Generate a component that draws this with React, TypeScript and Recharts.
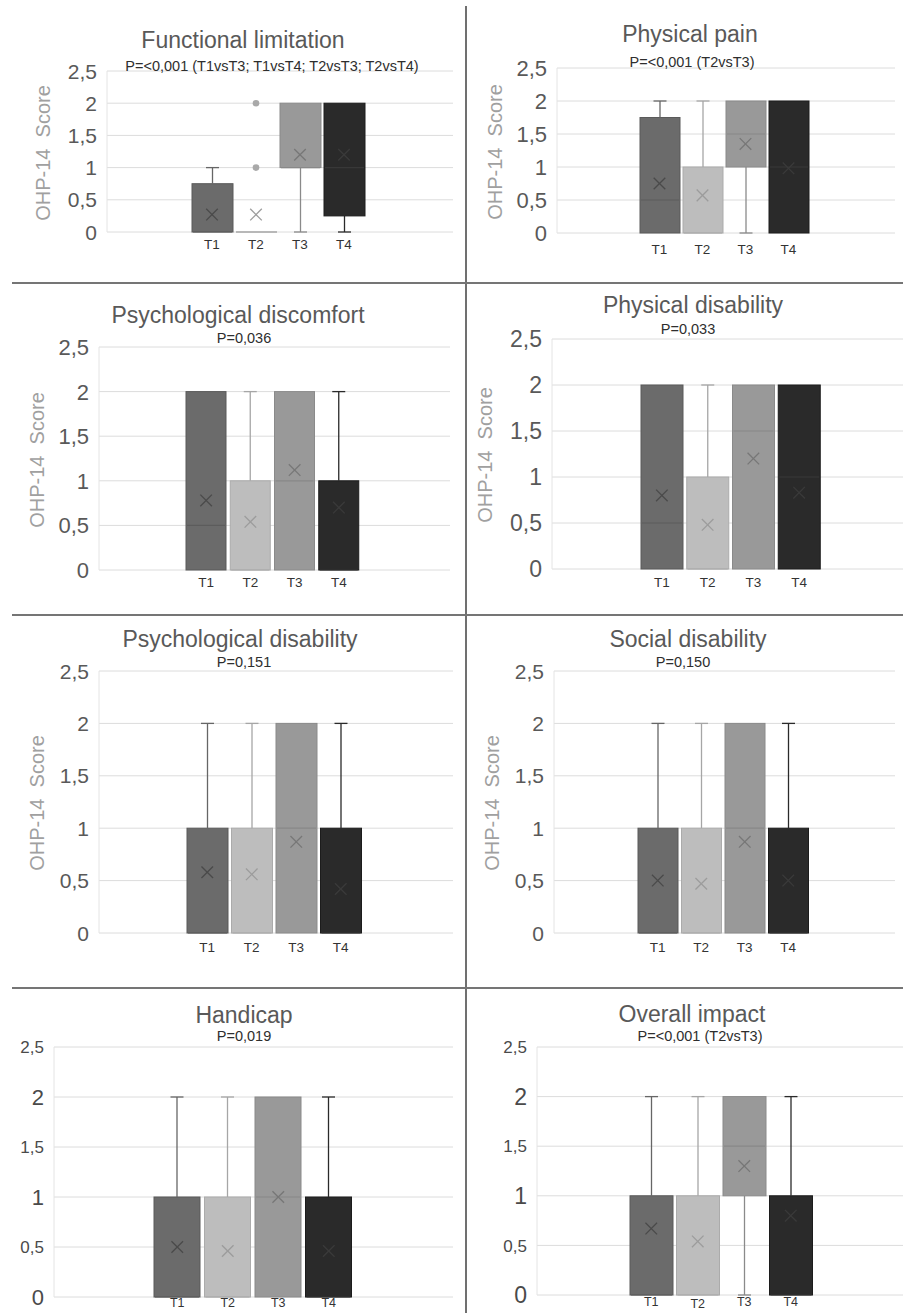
import React from 'react';
import { ComposedChart, Bar, Scatter, XAxis, YAxis, CartesianGrid } from 'recharts';

// ---------- data ----------
const timepoints = ['T1', 'T2', 'T3', 'T4'];
const yTicks = [0, 0.5, 1, 1.5, 2, 2.5];

const panelTitles = [
  'Functional limitation', 'Physical pain', 'Psychological discomfort', 'Physical disability',
  'Psychological disability', 'Social disability', 'Handicap', 'Overall impact',
];
const panelPValues = [
  'P=<0,001 (T1vsT3; T1vsT4; T2vsT3; T2vsT4)', 'P=<0,001 (T2vsT3)', 'P=0,036', 'P=0,033',
  'P=0,151', 'P=0,150', 'P=0,019', 'P=<0,001 (T2vsT3)',
];

// Functional limitation
const flMin = [0, 0, 0, 0];
const flQ1 = [0, 0, 1, 0.25];
const flMedian = [0, 0, 1, 1];
const flQ3 = [0.75, 0, 2, 2];
const flMax = [1, 0, 2, 2];
const flMean = [0.27, 0.27, 1.2, 1.2];
const flOutliers = [[], [1, 2], [], []];

// Physical pain
const ppMin = [0, 0, 0, 0];
const ppQ1 = [0, 0, 1, 0];
const ppMedian = [0.5, 0, 1.5, 1];
const ppQ3 = [1.75, 1, 2, 2];
const ppMax = [2, 2, 2, 2];
const ppMean = [0.75, 0.57, 1.35, 0.98];

// Psychological discomfort
const pdcMin = [0, 0, 0, 0];
const pdcQ1 = [0, 0, 0, 0];
const pdcMedian = [0.5, 0, 1, 0];
const pdcQ3 = [2, 1, 2, 1];
const pdcMax = [2, 2, 2, 2];
const pdcMean = [0.78, 0.54, 1.12, 0.7];

// Physical disability
const phdMin = [0, 0, 0, 0];
const phdQ1 = [0, 0, 0, 0];
const phdMedian = [0.5, 0, 1.5, 1];
const phdQ3 = [2, 1, 2, 2];
const phdMax = [2, 2, 2, 2];
const phdMean = [0.8, 0.48, 1.2, 0.83];

// Psychological disability
const psdMin = [0, 0, 0, 0];
const psdQ1 = [0, 0, 0, 0];
const psdMedian = [0, 0, 1, 0];
const psdQ3 = [1, 1, 2, 1];
const psdMax = [2, 2, 2, 2];
const psdMean = [0.58, 0.56, 0.87, 0.42];

// Social disability
const sdMin = [0, 0, 0, 0];
const sdQ1 = [0, 0, 0, 0];
const sdMedian = [0, 0, 1, 0];
const sdQ3 = [1, 1, 2, 1];
const sdMax = [2, 2, 2, 2];
const sdMean = [0.5, 0.47, 0.87, 0.5];

// Handicap
const hcMin = [0, 0, 0, 0];
const hcQ1 = [0, 0, 0, 0];
const hcMedian = [0, 0, 1, 0];
const hcQ3 = [1, 1, 2, 1];
const hcMax = [2, 2, 2, 2];
const hcMean = [0.5, 0.46, 1.0, 0.46];

// Overall impact
const oiMin = [0, 0, 0, 0];
const oiQ1 = [0, 0, 1, 0];
const oiMedian = [0, 0, 1.5, 0];
const oiQ3 = [1, 1, 2, 1];
const oiMax = [2, 2, 2, 2];
const oiMean = [0.67, 0.54, 1.3, 0.8];

const noOutliers = [[], [], [], []];

const panelStats = [
  [flMin, flQ1, flMedian, flQ3, flMax, flMean, flOutliers],
  [ppMin, ppQ1, ppMedian, ppQ3, ppMax, ppMean, noOutliers],
  [pdcMin, pdcQ1, pdcMedian, pdcQ3, pdcMax, pdcMean, noOutliers],
  [phdMin, phdQ1, phdMedian, phdQ3, phdMax, phdMean, noOutliers],
  [psdMin, psdQ1, psdMedian, psdQ3, psdMax, psdMean, noOutliers],
  [sdMin, sdQ1, sdMedian, sdQ3, sdMax, sdMean, noOutliers],
  [hcMin, hcQ1, hcMedian, hcQ3, hcMax, hcMean, noOutliers],
  [oiMin, oiQ1, oiMedian, oiQ3, oiMax, oiMean, noOutliers],
];

// ---------- styles ----------
const FONT = '"Liberation Sans", Arial, sans-serif';
const COLORS = [
  { fill: '#6b6b6b', edge: '#5a5a5a', whisker: '#666666', mean: '#4a4a4a', median: '#5c5c5c' },
  { fill: '#bdbdbd', edge: '#ababab', whisker: '#a6a6a6', mean: '#9c9c9c', median: '#aaaaaa' },
  { fill: '#999999', edge: '#8a8a8a', whisker: '#8a8a8a', mean: '#777777', median: '#888888' },
  { fill: '#2a2a2a', edge: '#1c1c1c', whisker: '#2a2a2a', mean: '#3a3a3a', median: '#383838' },
];

const layouts = [
  { x0: 0, left: 107, right: 453, top: 71, bottom: 232, padL: 83, padR: 87, bar: 41, tickFs: 21, halfFs: 21, tickColor: '#595959', xMargin: 7, xFs: 13.5, t2Drop: 0, title: [243, 40], sub: [272, 66], ylab: [43, 153] },
  { x0: 470, left: 557, right: 895, top: 68, bottom: 233, padL: 81, padR: 85, bar: 40, tickFs: 22, halfFs: 22, tickColor: '#595959', xMargin: 11, xFs: 13.5, t2Drop: 0, title: [690, 34], sub: [692, 62], ylab: [495, 152] },
  { x0: 0, left: 99, right: 450, top: 347, bottom: 570, padL: 85, padR: 89, bar: 40, tickFs: 22, halfFs: 22, tickColor: '#595959', xMargin: 7, xFs: 13.5, t2Drop: 0, title: [238, 315], sub: [244, 338], ylab: [37, 460] },
  { x0: 470, left: 552, right: 903, top: 339, bottom: 569, padL: 87, padR: 81, bar: 42, tickFs: 23, halfFs: 23, tickColor: '#595959', xMargin: 8, xFs: 13.5, t2Drop: 0, title: [693, 305], sub: [688, 329], ylab: [485, 455] },
  { x0: 0, left: 99, right: 453, top: 671, bottom: 933, padL: 86, padR: 90, bar: 41, tickFs: 21, halfFs: 21, tickColor: '#595959', xMargin: 9, xFs: 13.5, t2Drop: 0, title: [240, 639], sub: [244, 662], ylab: [37, 803] },
  { x0: 470, left: 554, right: 895, top: 671, bottom: 933, padL: 82, padR: 85, bar: 40, tickFs: 21, halfFs: 21, tickColor: '#595959', xMargin: 9, xFs: 13.5, t2Drop: 0, title: [688, 639], sub: [683, 662], ylab: [492, 803] },
  { x0: 0, left: 54, right: 453, top: 1047, bottom: 1297, padL: 98, padR: 99, bar: 46, tickFs: 22, halfFs: 17, tickColor: '#4a4a4a', xMargin: 1, xFs: 12.5, t2Drop: 0, title: [244, 1015], sub: [244, 1036], ylab: null },
  { x0: 470, left: 537, right: 903, top: 1047, bottom: 1295, padL: 91, padR: 89, bar: 43, tickFs: 23, halfFs: 17, tickColor: '#4a4a4a', xMargin: 2, xFs: 12.5, t2Drop: 2, title: [692, 1014], sub: [700, 1036], ylab: null },
];

function buildRows(stats: any[]) {
  const [mn, q1, med, q3, mx, mean, outl] = stats;
  return timepoints.map((name, i) => ({
    name,
    idx: i,
    min: mn[i], q1: q1[i], median: med[i], q3: q3[i], max: mx[i], mean: mean[i],
    base: mn[i],
    low: q1[i] - mn[i],
    box: q3[i] - q1[i],
    up: mx[i] - q3[i],
    out1: outl[i][0] ?? null,
    out2: outl[i][1] ?? null,
  }));
}

// ---------- shapes ----------
const Empty = () => <g />;

const BoxShape = (props: any) => {
  const { x, y, width, height, payload } = props;
  const c = COLORS[payload.idx];
  if (!(height > 0.5)) {
    return <line x1={x} x2={x + width} y1={y} y2={y} stroke={c.whisker} strokeWidth={1.5} />;
  }
  const medY = y + (height * (payload.q3 - payload.median)) / (payload.q3 - payload.q1);
  return (
    <g>
      <rect x={x} y={y} width={width} height={height} fill={c.fill} stroke={c.edge} strokeWidth={1} />
      <line x1={x + 1} x2={x + width - 1} y1={medY} y2={medY} stroke={c.median} strokeWidth={1.2} />
    </g>
  );
};

const makeWhisker = (upper: boolean) => (props: any) => {
  const { x, y, width, height, payload } = props;
  if (!(height > 0.5)) return <g />;
  const c = COLORS[payload.idx].whisker;
  const cx = x + width / 2;
  const capY = upper ? y : y + height;
  return (
    <g>
      <line x1={cx} x2={cx} y1={y} y2={y + height} stroke={c} strokeWidth={1.3} />
      <line x1={cx - 6.5} x2={cx + 6.5} y1={capY} y2={capY} stroke={c} strokeWidth={1.3} />
    </g>
  );
};
const LowWhisker = makeWhisker(false);
const UpWhisker = makeWhisker(true);

const MeanShape = (props: any) => {
  const { cx, cy, payload } = props;
  if (payload == null || cx == null || cy == null) return <g />;
  const c = COLORS[payload.idx].mean;
  const r = 5.8;
  return (
    <g>
      <line x1={cx - r} y1={cy - r} x2={cx + r} y2={cy + r} stroke={c} strokeWidth={1.3} />
      <line x1={cx - r} y1={cy + r} x2={cx + r} y2={cy - r} stroke={c} strokeWidth={1.3} />
    </g>
  );
};

const makeOutlierShape = (key: string) => (props: any) => {
  const { cx, cy, payload } = props;
  if (payload == null || payload[key] == null) return <g />;
  return <circle cx={cx} cy={cy} r={3.3} fill="#a9a9a9" />;
};
const Out1Shape = makeOutlierShape('out1');
const Out2Shape = makeOutlierShape('out2');

const fmt = (v: number) => String(v).replace('.', ',');

function Panel({ i }: { i: number }) {
  const L = layouts[i];
  const rows = buildRows(panelStats[i]);
  const mt = 12;
  const xh = 30;
  const width = L.right - L.x0;
  const height = L.bottom - L.top + mt + xh;
  const yTick = (p: any) => {
    const v = p.payload.value;
    const isInt = Number.isInteger(v);
    return (
      <text x={p.x} y={p.y} textAnchor="end" dy="0.36em" fontSize={isInt ? L.tickFs : L.halfFs} fill={L.tickColor} fontFamily={FONT}>
        {fmt(v)}
      </text>
    );
  };
  const xTick = (p: any) => {
    const drop = p.payload.value === 'T2' ? L.t2Drop : 0;
    return (
      <text x={p.x} y={p.y + drop} textAnchor="middle" dy="0.71em" fontSize={L.xFs} fill="#333333" fontFamily={FONT}>
        {p.payload.value}
      </text>
    );
  };
  return (
    <div style={{ position: 'absolute', left: L.x0, top: L.top - mt }}>
      <ComposedChart width={width} height={height} data={rows} margin={{ top: mt, right: 0, bottom: 0, left: 0 }}>
        <CartesianGrid vertical={false} stroke="#dcdcdc" />
        <XAxis
          dataKey="name"
          type="category"
          padding={{ left: L.padL, right: L.padR }}
          tickLine={false}
          axisLine={false}
          tickSize={0}
          tickMargin={L.xMargin}
          height={xh}
          interval={0}
          tick={xTick}
        />
        <YAxis
          type="number"
          domain={[0, 2.5]}
          ticks={yTicks}
          interval={0}
          width={L.left - L.x0}
          tickLine={false}
          axisLine={{ stroke: '#e4e4e4' }}
          tickSize={0}
          tickMargin={10}
          tick={yTick}
        />
        <Bar dataKey="base" stackId="s" barSize={L.bar} shape={Empty} isAnimationActive={false} />
        <Bar dataKey="low" stackId="s" barSize={L.bar} shape={LowWhisker} isAnimationActive={false} />
        <Bar dataKey="box" stackId="s" barSize={L.bar} shape={BoxShape} isAnimationActive={false} />
        <Bar dataKey="up" stackId="s" barSize={L.bar} shape={UpWhisker} isAnimationActive={false} />
        <Scatter dataKey="mean" shape={MeanShape} isAnimationActive={false} />
        <Scatter dataKey="out1" shape={Out1Shape} isAnimationActive={false} />
        <Scatter dataKey="out2" shape={Out2Shape} isAnimationActive={false} />
      </ComposedChart>
    </div>
  );
}

function CenterText({ x, y, fs, color, children }: any) {
  return (
    <div
      style={{
        position: 'absolute', left: x, top: y - 0.49 * fs, transform: 'translateX(-50%)',
        fontSize: fs, lineHeight: `${fs}px`, color, whiteSpace: 'nowrap', fontFamily: FONT,
      }}
    >
      {children}
    </div>
  );
}

export default function App() {
  return (
    <div style={{ position: 'absolute', left: 0, top: 0, width: 903, height: 1313, overflow: 'hidden', background: '#ffffff', fontFamily: FONT }}>
      {layouts.map((L, i) => (
        <React.Fragment key={i}>
          <Panel i={i} />
          <CenterText x={L.title[0]} y={L.title[1]} fs={23} color="#595959">{panelTitles[i]}</CenterText>
          <CenterText x={L.sub[0]} y={L.sub[1]} fs={14.5} color="#2e2e2e">{panelPValues[i]}</CenterText>
          {L.ylab && (
            <div
              style={{
                position: 'absolute', left: L.ylab[0], top: L.ylab[1],
                transform: 'translate(-50%, -50%) rotate(-90deg)', fontSize: 20, lineHeight: '20px',
                color: '#a0a0a0', whiteSpace: 'pre', fontFamily: FONT,
              }}
            >
              {'OHP-14  Score'}
            </div>
          )}
        </React.Fragment>
      ))}
      {/* panel dividers */}
      <div style={{ position: 'absolute', left: 465, top: 6, width: 2, height: 1307, background: '#707070' }} />
      {[282, 614, 987].map((y) => (
        <div key={y} style={{ position: 'absolute', left: 12, top: y, width: 891, height: 1.5, background: '#757575' }} />
      ))}
    </div>
  );
}
